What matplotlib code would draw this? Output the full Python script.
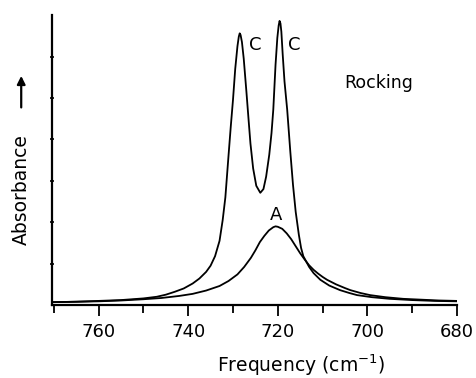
import matplotlib.pyplot as plt

# curve C (crystalline doublet)
c_freq = [770.0, 765.0, 760.0, 755.0, 750.0, 747.0, 745.0, 743.0, 741.0, 739.0,
          737.5, 736.0, 735.0, 734.0, 733.0, 732.3, 731.7, 731.0, 730.5, 730.0,
          729.5, 729.0, 728.7, 728.5, 728.3, 728.0, 727.6, 727.0, 726.5, 726.1,
          725.5, 724.8, 723.9, 723.2, 722.6, 721.9, 721.4, 721.0, 720.5, 720.1,
          719.8, 719.6, 719.4, 719.2, 718.9, 718.5, 717.9, 717.2, 716.6, 716.0,
          715.3, 714.8, 714.3, 713.0, 712.0, 710.5, 708.5, 706.1, 704.0, 702.3,
          699.0, 695.0, 690.0, 685.0, 680.0]
c_abs = [0.07, 0.08, 0.10, 0.12, 0.16, 0.20, 0.25, 0.32, 0.40, 0.52,
         0.64, 0.80, 0.95, 1.18, 1.55, 2.05, 2.60, 3.60, 4.30, 4.95,
         5.70, 6.25, 6.48, 6.56, 6.52, 6.35, 5.95, 5.15, 4.45, 3.90,
         3.30, 2.88, 2.71, 2.80, 3.10, 3.63, 4.15, 4.72, 5.80, 6.45,
         6.75, 6.86, 6.80, 6.60, 6.05, 5.40, 4.72, 3.70, 2.90, 2.25,
         1.70, 1.38, 1.18, 0.92, 0.77, 0.61, 0.47, 0.36, 0.29, 0.24,
         0.19, 0.15, 0.12, 0.10, 0.09]

# curve A (amorphous band)
a_freq = [770.0, 765.0, 760.0, 755.0, 750.0, 746.0, 742.0, 739.0, 736.0, 733.0,
          731.0, 729.0, 727.5, 726.0, 725.0, 724.0, 723.0, 722.0, 721.0, 720.5,
          720.0, 719.0, 718.0, 717.0, 716.0, 715.0, 714.0, 713.0, 712.0, 711.0,
          710.0, 709.0, 707.0, 705.0, 703.8, 701.5, 699.4, 696.0, 692.0, 688.0,
          684.0, 680.0]
a_abs = [0.07, 0.08, 0.09, 0.11, 0.14, 0.17, 0.22, 0.27, 0.35, 0.46,
         0.58, 0.74, 0.92, 1.14, 1.32, 1.52, 1.67, 1.80, 1.88, 1.90,
         1.89, 1.84, 1.73, 1.59, 1.42, 1.25, 1.10, 0.96, 0.85, 0.76,
         0.68, 0.61, 0.50, 0.41, 0.36, 0.29, 0.24, 0.19, 0.15, 0.13,
         0.11, 0.10]

fig = plt.figure(figsize=(4.77, 3.78), dpi=100)
ax = fig.add_axes([0.109, 0.193, 0.849, 0.767])

ax.plot(c_freq, c_abs, color='black', linewidth=1.3)
ax.plot(a_freq, a_abs, color='black', linewidth=1.3)

ax.set_xlim(770.4, 680)
ax.set_ylim(0, 7.0)

ax.spines['top'].set_visible(False)
ax.spines['right'].set_visible(False)
ax.spines['left'].set_linewidth(1.6)
ax.spines['bottom'].set_linewidth(1.6)

ax.set_xticks([760, 740, 720, 700, 680])
ax.set_xticks([770, 750, 730, 710, 690], minor=True)
ax.tick_params(axis='x', which='major', length=8, width=1.3, labelsize=13, pad=5)
ax.tick_params(axis='x', which='minor', length=5.5, width=1.3)
ax.set_yticks([1, 2, 3, 4, 5, 6])
ax.set_yticklabels([])
ax.tick_params(axis='y', which='major', length=3, width=1.2, direction='inout')

ax.text(725.0, 6.27, "C", fontsize=13, ha='center', va='center')
ax.text(716.3, 6.27, "C", fontsize=13, ha='center', va='center')
ax.text(697.4, 5.35, "Rocking", fontsize=12.5, ha='center', va='center')
ax.text(720.4, 2.18, "A", fontsize=13, ha='center', va='center')

fig.text(0.631, 0.035, "Frequency (cm$^{-1}$)", fontsize=13.5, ha='center', va='center')
ax.text(-0.075, 0.40, "Absorbance", fontsize=13.5, rotation=90,
        ha='center', va='center', transform=ax.transAxes)
ax.annotate("", xy=(-0.076, 0.80), xytext=(-0.076, 0.672),
            xycoords='axes fraction', textcoords='axes fraction',
            arrowprops=dict(arrowstyle='-|>', color='black', lw=1.6, mutation_scale=12))

plt.savefig("out.png", dpi=100)
